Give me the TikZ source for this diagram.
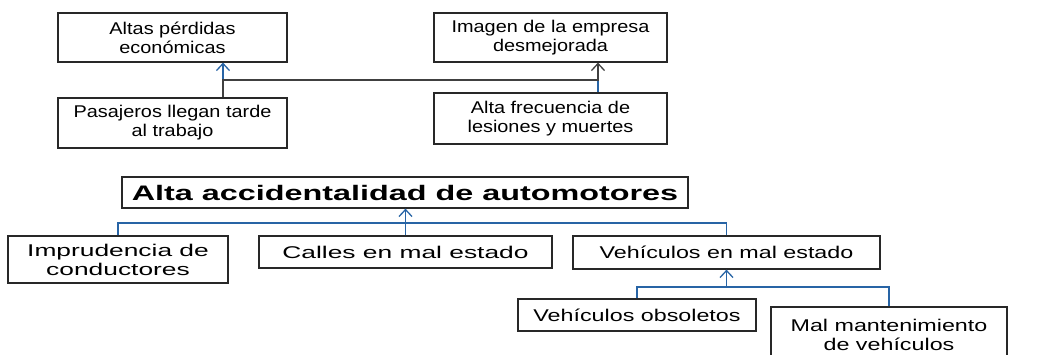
\documentclass[tikz,border=0pt]{standalone}
\usepackage{fontspec}
\setmainfont{Liberation Sans}[FakeStretch=1.37]
\newfontfamily\toprowfont{Liberation Sans}[FakeStretch=1.17]
\newfontfamily\widefont{Liberation Sans}[FakeStretch=1.55]
\newfontfamily\titlefont{Liberation Sans}[FakeStretch=1.54]
\usetikzlibrary{arrows.meta}
\definecolor{conblue}{RGB}{40,100,165}
\definecolor{boxline}{RGB}{40,40,40}
\begin{document}
\begin{tikzpicture}[x=1pt,y=-1pt,
  box/.style={draw=boxline, line width=1.2pt, inner sep=0pt, align=center,
    font=\fontsize{17}{19}\selectfont},
  topbox/.style={box, font=\toprowfont\fontsize{17}{19}\selectfont},
  widebox/.style={box, font=\widefont\fontsize{17}{19}\selectfont},
  bconn/.style={draw=conblue, line width=1.4pt},
  kconn/.style={draw=black!75, line width=1.4pt},
  tip/.style={-{Straight Barb[length=7pt,width=13pt,line width=1.3pt]}}]
\useasboundingbox (0,0) rectangle (1052,354);
\clip (0,0) rectangle (1052,354);
% top row
\node[topbox, minimum width=229pt, minimum height=49pt] (altas) at (172.5,37.5) {Altas pérdidas\\económicas};
\node[topbox, minimum width=233pt, minimum height=49pt] (imagen) at (550.5,37.5) {Imagen de la empresa\\desmejorada};
\node[topbox, minimum width=229pt, minimum height=50pt] (pasaj) at (172.5,123) {Pasajeros llegan tarde\\al trabajo};
\node[topbox, minimum width=233pt, minimum height=51pt] (freq) at (550.5,118.5) {Alta frecuencia de\\lesiones y muertes};
% central problem
\node[box, minimum width=566pt, minimum height=31pt, font=\titlefont\bfseries\fontsize{21}{24}\selectfont] (main) at (405,192.5) {Alta accidentalidad de automotores};
% causes
\node[widebox, minimum width=220pt, minimum height=47pt] (impr) at (118,259.5) {Imprudencia de\\conductores};
\node[widebox, minimum width=293pt, minimum height=32pt] (calles) at (405.5,252) {Calles en mal estado};
\node[box, minimum width=307pt, minimum height=33pt] (vehmal) at (726.5,252.5) {Vehículos en mal estado};
\node[box, minimum width=238pt, minimum height=32pt] (obso) at (637,315) {Vehículos obsoletos};
\node[box, minimum width=236pt, minimum height=56pt] (mant) at (889,335) {Mal mantenimiento\\de vehículos};
% helper coordinates
\coordinate (xl) at (223,0);
\coordinate (xr) at (598,0);
\coordinate (hy) at (0,80);
\coordinate (hy2) at (0,223);
\coordinate (hy3) at (0,287);
% effects connectors
\draw[bconn, tip] (freq.north -| xr) -- (xr |- hy) -- (xl |- hy) -- (altas.south -| xl);
\draw[kconn, tip] (pasaj.north -| xl) -- (xl |- hy) -- (xr |- hy) -- (imagen.south -| xr);
% causes connectors
\draw[bconn] (impr.north) |- (calles.north |- hy2);
\draw[bconn] (vehmal.north) |- (calles.north |- hy2);
\draw[bconn, tip] (calles.north) -- (calles.north |- main.south);
\draw[bconn] (obso.north) |- (vehmal.south |- hy3);
\draw[bconn] (mant.north) |- (vehmal.south |- hy3);
\draw[bconn, tip] (vehmal.south |- hy3) -- (vehmal.south);
\end{tikzpicture}
\end{document}
